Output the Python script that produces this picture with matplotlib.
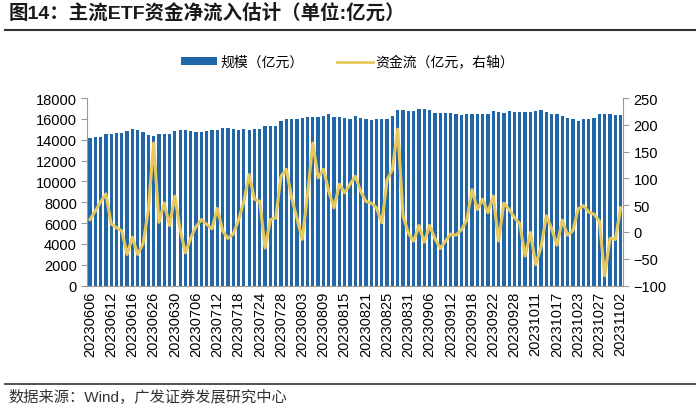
import numpy as np
import matplotlib
matplotlib.use("Agg")
import matplotlib.pyplot as plt
from matplotlib.patches import Patch
from matplotlib.lines import Line2D

plt.rcParams['font.family'] = ['Liberation Sans', 'Noto Sans CJK SC', 'DejaVu Sans']

# ETF规模（亿元），每个交易日一个值
sizes = [14180, 14240, 14300, 14530, 14530, 14660, 14660, 14820, 15010, 14910,
         14750, 14460, 14400, 14590, 14590, 14590, 14820, 14940, 14940, 14820,
         14750, 14750, 14820, 14910, 14910, 15130, 15100, 15010, 14940, 14980,
         14940, 14980, 15010, 15360, 15360, 15360, 15780, 16030, 16030, 15970,
         16100, 16190, 16190, 16190, 16320, 16420, 16160, 16160, 16100, 16030,
         16260, 16100, 16000, 15870, 15940, 16030, 15970, 16260, 16830, 16830,
         16800, 16800, 16990, 16900, 16860, 16540, 16540, 16580, 16540, 16420,
         16380, 16420, 16450, 16450, 16420, 16420, 16740, 16640, 16580, 16740,
         16700, 16670, 16670, 16640, 16740, 16830, 16670, 16480, 16480, 16320,
         16100, 16000, 15840, 15940, 16030, 16100, 16420, 16480, 16420, 16380,
         16350]

# 资金流（亿元，右轴）
flows = [23, 39, 56, 71, 15, 8, 2, -42, -10, -42,
         -22, 40, 166, 18, 54, 12, 67, 4, -39, -11,
         10, 23, 14, 6, 44, 2, -12, -4, 22, 57,
         107, 61, 57, -30, 23, 26, 104, 117, 64, 26,
         -14, 70, 166, 101, 117, 76, 45, 89, 73, 89,
         104, 76, 57, 54, 45, 17, 97, 117, 192, 30,
         -2, -17, 12, -19, 12, -12, -31, -17, -4, -6,
         4, 22, 79, 42, 61, 36, 67, -17, 54, 42,
         27, 15, -45, -1, -61, -28, 30, 6, -25, 22,
         -6, 2, 43, 49, 37, 33, 20, -82, -12, -14,
         45]

# 每隔4个交易日的刻度标签
tick_labels = ['20230606', '20230612', '20230616', '20230626', '20230630',
               '20230706', '20230712', '20230718', '20230724', '20230728',
               '20230803', '20230809', '20230815', '20230821', '20230825',
               '20230831', '20230906', '20230912', '20230918', '20230922',
               '20230928', '20231011', '20231017', '20231023', '20231027',
               '20231102']

bar_color = '#2166a8'
line_color = '#e6c85c'
spine_color = '#9a9a9a'

fig = plt.figure(figsize=(7, 4.1), dpi=100)
ax = fig.add_axes([0.1247, 0.3012, 0.7657, 0.4573])
x = np.arange(len(sizes))
ax.bar(x, sizes, width=0.62, color=bar_color, zorder=2)
ax.set_xlim(-0.5, len(sizes) - 0.5)
ax.set_ylim(0, 18000)
ax.set_yticks(range(0, 18001, 2000))
ax.set_xticks(x[::4])
ax.set_xticklabels(tick_labels[:len(x[::4])], rotation=90, fontsize=10.5)
ax.tick_params(axis='y', labelsize=10.5, length=4, color=spine_color)
ax.tick_params(axis='x', length=0, pad=4)
ax.spines['top'].set_visible(False)
ax.spines['right'].set_visible(False)
for s in ['left', 'bottom']:
    ax.spines[s].set_color(spine_color)

ax2 = ax.twinx()
ax2.plot(x, flows, color=line_color, lw=2.2, zorder=3)
ax2.set_ylim(-100, 250)
ax2.set_yticks(range(-100, 251, 50))
ax2.tick_params(axis='y', labelsize=10.5, length=4, color=spine_color)
for s in ['top', 'left', 'bottom']:
    ax2.spines[s].set_visible(False)
ax2.spines['right'].set_color(spine_color)

handles = [Patch(facecolor=bar_color, edgecolor='none'),
           Line2D([0], [0], color=line_color, lw=2)]
fig.legend(handles, ['规模（亿元）', '资金流（亿元，右轴）'], loc='center',
           bbox_to_anchor=(0.497, 0.846), ncol=2, frameon=False, fontsize=10,
           handlelength=2.6, handleheight=0.45, handletextpad=0.2, columnspacing=2.4)

# 标题与来源
fig.text(0.012, 0.969, '图14：主流ETF资金净流入估计（单位:亿元）', fontsize=14,
         fontweight='bold', color='#1a1a1a', va='center', ha='left')
fig.add_artist(Line2D([0.007, 0.993], [0.925, 0.925], color='#333333', lw=1.5))
fig.add_artist(Line2D([0.007, 0.993], [0.061, 0.061], color='#333333', lw=1.2))
fig.text(0.012, 0.03, '数据来源：Wind，广发证券发展研究中心', fontsize=11,
         color='#333333', va='center', ha='left')

fig.savefig('out.png', dpi=100)
